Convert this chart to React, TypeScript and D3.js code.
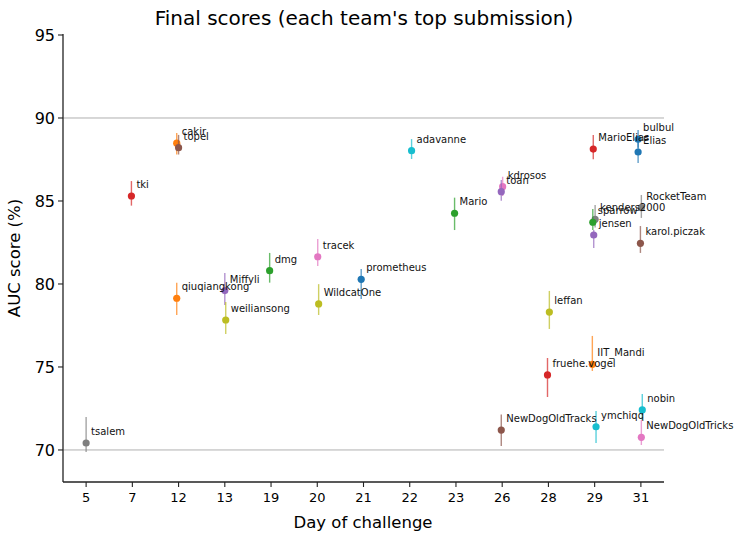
import React from "react";
import * as d3 from "d3";

const days = ["5", "7", "12", "13", "19", "20", "21", "22", "23", "26", "28", "29", "31"];
const yTicks = [70, 75, 80, 85, 90, 95];
const gridValues = [70, 90];

const teams = ["tsalem", "tki", "cakir", "topel", "qiuqiangkong", "Miffyli", "weiliansong", "dmg", "tracek", "WildcatOne", "prometheus", "adavanne", "Mario", "kdrosos", "toan", "NewDogOldTracks", "leffan", "fruehe.vogel", "MarioElias", "kenders2000", "sparrow", "jensen", "IIT_Mandi", "ymchiqq", "bulbul", "Elias", "RocketTeam", "karol.piczak", "nobin", "NewDogOldTricks"];
const teamDay = ["5", "7", "12", "12", "12", "13", "13", "19", "20", "20", "21", "22", "23", "26", "26", "26", "28", "28", "29", "29", "29", "29", "29", "29", "31", "31", "31", "31", "31", "31"];
const jitter = [0, -0.02, -0.04, 0, -0.04, 0, 0.02, -0.03, 0.01, 0.03, -0.05, 0.04, -0.03, 0.01, -0.02, -0.02, 0.02, -0.02, -0.03, 0.01, -0.04, -0.02, -0.05, 0.03, -0.06, -0.06, 0.01, -0.01, 0.03, 0.01];
const scores = [70.42, 85.3, 88.48, 88.21, 79.14, 79.6, 77.83, 80.8, 81.64, 78.8, 80.28, 88.03, 84.26, 85.86, 85.56, 71.2, 78.31, 74.52, 88.13, 83.9, 83.72, 82.95, 75.16, 71.4, 88.72, 87.95, 84.6, 82.45, 72.41, 70.76];
const errLow = [69.88, 84.72, 87.8, 87.8, 78.13, 78.73, 76.99, 80.08, 81.08, 78.13, 79.1, 87.53, 83.25, 85.3, 85.02, 70.24, 77.29, 73.19, 87.51, 83.4, 83.25, 82.17, 74.76, 70.42, 88.2, 87.29, 83.98, 81.87, 71.8, 70.3];
const errHigh = [71.99, 86.2, 89.1, 88.98, 80.08, 80.66, 78.92, 81.87, 82.71, 79.99, 80.9, 88.73, 85.2, 86.46, 86.27, 72.13, 79.58, 75.54, 88.98, 84.76, 84.52, 83.25, 76.87, 72.35, 89.28, 88.6, 85.36, 83.49, 73.37, 71.8];
const colorKeys = ["gray", "red", "orange", "brown", "orange", "purple", "olive", "green", "pink", "olive", "blue", "cyan", "green", "pink", "purple", "brown", "olive", "red", "red", "gray", "green", "purple", "orange", "cyan", "blue", "blue", "gray", "brown", "cyan", "pink"];

const palette: Record<string, string> = {
  blue: "#1f77b4", orange: "#ff7f0e", green: "#2ca02c", red: "#d62728", purple: "#9467bd",
  brown: "#8c564b", pink: "#e377c2", gray: "#7f7f7f", olive: "#bcbd22", cyan: "#17becf",
};

const W = 737, H = 536;
const M = { left: 63, right: 664, top: 34, bottom: 482 };
const FONT = "DejaVu Sans, sans-serif";

export default function App() {
  const x = d3.scaleLinear().domain([-0.5, days.length - 0.5]).range([M.left, M.right]);
  const y = d3.scaleLinear().domain([68.07, 95]).range([M.bottom, M.top + 1]);
  const data = teams.map((t, i) => ({
    name: t,
    xi: days.indexOf(teamDay[i]) + jitter[i],
    s: scores[i],
    lo: errLow[i],
    hi: errHigh[i],
    c: palette[colorKeys[i]],
  }));
  return (
    <svg width={W} height={H} style={{ position: "absolute", left: 0, top: 0, background: "#fff" }} fontFamily={FONT}>
      <text x={364} y={25} textAnchor="middle" fontSize={20} fill="#000">Final scores (each team's top submission)</text>
      {gridValues.map((g) => (
        <line key={g} x1={M.left} x2={M.right} y1={y(g)} y2={y(g)} stroke="#b0b0b0" strokeWidth={1} />
      ))}
      {data.map((d) => (
        <g key={d.name}>
          <line x1={x(d.xi)} x2={x(d.xi)} y1={y(d.lo)} y2={y(d.hi)} stroke={d.c} strokeWidth={1.4} opacity={0.7} />
          <circle cx={x(d.xi)} cy={y(d.s)} r={3.6} fill={d.c} />
        </g>
      ))}
      {data.map((d) => (
        <text key={"l" + d.name} x={x(d.xi) + 5} y={y(d.s) - 8} fontSize={10} fill="#111">{d.name}</text>
      ))}
      <line x1={M.left} x2={M.left} y1={M.top} y2={M.bottom} stroke="#222" strokeWidth={1.3} />
      <line x1={M.left} x2={M.right} y1={M.bottom} y2={M.bottom} stroke="#222" strokeWidth={1.3} />
      {yTicks.map((t) => (
        <g key={t}>
          <line x1={M.left - 5} x2={M.left} y1={y(t)} y2={y(t)} stroke="#222" strokeWidth={1.1} />
          <text x={M.left - 8} y={y(t)} dy="0.35em" textAnchor="end" fontSize={16} fill="#000">{t}</text>
        </g>
      ))}
      {days.map((dd, i) => (
        <g key={dd}>
          <line x1={x(i)} x2={x(i)} y1={M.bottom} y2={M.bottom + 5} stroke="#222" strokeWidth={1.1} />
          <text x={x(i)} y={M.bottom + 20} textAnchor="middle" fontSize={13} fill="#000">{dd}</text>
        </g>
      ))}
      <text x={363} y={528} textAnchor="middle" fontSize={16.5} fill="#000">Day of challenge</text>
      <text transform={`translate(20,${(M.top + M.bottom) / 2}) rotate(-90)`} textAnchor="middle" fontSize={16.5} fill="#000">AUC score (%)</text>
    </svg>
  );
}
